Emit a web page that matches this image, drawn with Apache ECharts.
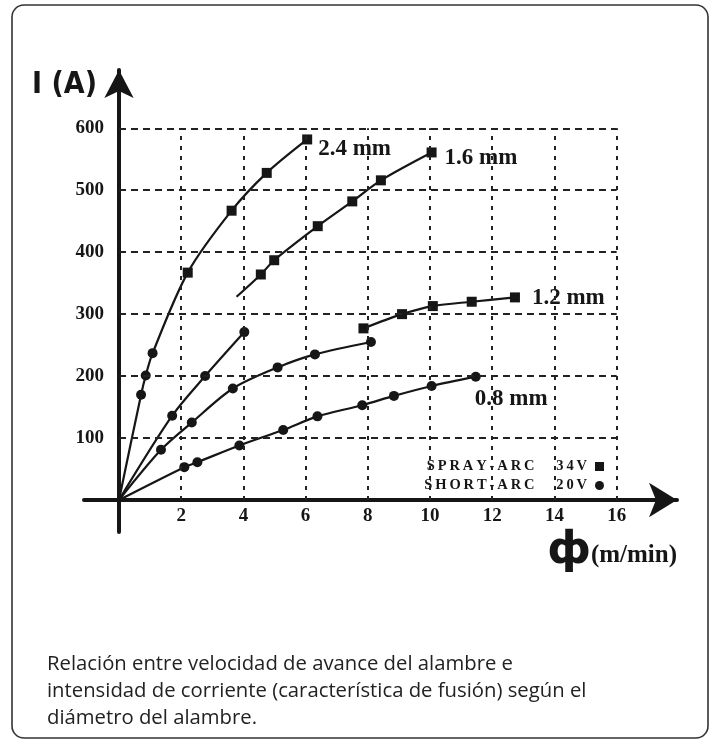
<!DOCTYPE html>
<html>
<head>
<meta charset="utf-8">
<script src="https://cdn.jsdelivr.net/npm/echarts@6/dist/echarts.min.js"></script>
<style>
  html, body { margin: 0; padding: 0; background: #fff; }
  #chart { width: 720px; height: 746px; }
</style>
</head>
<body>
<div id="chart"></div>
<script>
// Axis ticks
const xTicks = [2, 4, 6, 8, 10, 12, 14, 16];          // wire feed speed (m/min)
const yTicks = [100, 200, 300, 400, 500, 600];         // current (A)

// Melting characteristic per wire diameter: [feed speed m/min, current A]
const wire24Short = [[0.71, 170], [0.86, 201], [1.08, 237]];
const wire24Spray = [[2.21, 367], [3.62, 467], [4.75, 528], [6.05, 582]];

const wire16Short = [[1.71, 136], [2.77, 200], [4.03, 271]];
const wire16SprayFrom = [3.78, 328];
const wire16Spray = [[4.56, 364], [4.99, 387], [6.39, 442], [7.50, 482], [8.42, 516], [10.05, 561]];

const wire12Short = [[1.35, 81], [2.34, 125], [3.66, 180], [5.10, 214], [6.30, 235], [8.10, 255]];
const wire12Spray = [[7.86, 277], [9.10, 300], [10.09, 313], [11.34, 320], [12.73, 327]];

const wire08Short = [[2.10, 53], [2.52, 61], [3.87, 88], [5.28, 113], [6.38, 135], [7.82, 153], [8.84, 168], [10.05, 184], [11.47, 199]];

const origin = [0, 0];
const curveNames = ['2.4 mm', '1.6 mm', '1.2 mm', '0.8 mm'];
const arcModes = ['SPRAY-ARC 34V', 'SHORT-ARC 20V'];
const captionLines = [
  'Relación entre velocidad de avance del alambre e',
  'intensidad de corriente (característica de fusión) según el',
  'diámetro del alambre.'
];

const INK = '#161616';
const SERIF = "'Liberation Serif', 'DejaVu Serif', serif";

function marked(arr, symbol) {
  return arr.map(v => ({ value: v, symbol: symbol }));
}
function bare(v) {
  return { value: v, symbol: 'none' };
}
function withEndLabel(items, text, offset) {
  const out = items.slice();
  const last = out[out.length - 1];
  out[out.length - 1] = Object.assign({}, last, {
    label: {
      show: true,
      formatter: text,
      position: 'right',
      offset: offset,
      color: INK,
      fontFamily: SERIF,
      fontWeight: 'bold',
      fontSize: 23
    }
  });
  return out;
}

function curve(name, data) {
  return {
    name: name,
    type: 'line',
    data: data,
    smooth: 0.3,
    symbolSize: 10,
    showAllSymbol: true,
    lineStyle: { color: INK, width: 2.2 },
    itemStyle: { color: INK },
    z: 4
  };
}

// Dotted reference grid, bounded by the last tick on each axis
const xEnd = xTicks[xTicks.length - 1];
const yEnd = yTicks[yTicks.length - 1];
const gridLines = [];
xTicks.forEach(x => gridLines.push([
  { coord: [x, 0], lineStyle: { type: [4, 6] } },
  { coord: [x, yEnd] }
]));
yTicks.forEach(y => gridLines.push([
  { coord: [0, y], lineStyle: { type: [7, 5] } },
  { coord: [xEnd, y] }
]));

const chart = echarts.init(document.getElementById('chart'), null, { renderer: 'canvas' });

chart.setOption({
  animation: false,
  backgroundColor: '#ffffff',
  grid: {
    left: 84, right: 43, top: 70, bottom: 214,
    containLabel: false,
    outerBoundsMode: 'none'
  },
  xAxis: {
    type: 'value',
    min: -1.125,
    max: 17.94,
    axisLine: {
      onZero: true,
      symbol: ['none', 'arrow'],
      symbolSize: [26, 28],
      lineStyle: { color: INK, width: 4 }
    },
    axisTick: { show: false },
    splitLine: { show: false },
    axisLabel: {
      customValues: xTicks,
      margin: -25,
      color: INK,
      fontFamily: SERIF,
      fontWeight: 'bold',
      fontSize: 19
    },
    name: '{phi|ф}{u|(m/min)}',
    nameLocation: 'end',
    nameGap: 0,
    nameMoveOverlap: false,
    nameTextStyle: {
      align: 'right',
      verticalAlign: 'top',
      padding: [30, 0, 0, 0],
      rich: {
        phi: { fontFamily: "'DejaVu Sans', sans-serif", fontWeight: 'bold', fontSize: 44, color: INK },
        u: { fontFamily: SERIF, fontWeight: 'bold', fontSize: 25, color: INK, padding: [8, 0, 0, 0] }
      }
    }
  },
  yAxis: {
    type: 'value',
    min: -51.7,
    max: 694.1,
    axisLine: {
      onZero: true,
      symbol: ['none', 'arrow'],
      symbolSize: [22, 28],
      lineStyle: { color: INK, width: 4 }
    },
    axisTick: { show: false },
    splitLine: { show: false },
    axisLabel: {
      customValues: yTicks,
      margin: -20,
      color: INK,
      fontFamily: SERIF,
      fontWeight: 'bold',
      fontSize: 19
    },
    name: 'I (A)',
    nameLocation: 'end',
    nameGap: -15,
    nameMoveOverlap: false,
    nameTextStyle: {
      align: 'right',
      verticalAlign: 'middle',
      padding: [0, 22, 0, 0],
      color: INK,
      fontFamily: "'Liberation Sans Narrow', 'DejaVu Sans Condensed', 'Liberation Sans', sans-serif",
      fontWeight: 'bold',
      fontSize: 30
    }
  },
  legend: {
    orient: 'vertical',
    right: 116,
    top: 459,
    padding: 0,
    itemGap: 4,
    itemWidth: 9,
    itemHeight: 9,
    align: 'right',
    selectedMode: false,
    data: [
      { name: arcModes[0], icon: 'rect' },
      { name: arcModes[1], icon: 'circle' }
    ],
    formatter: name => name.split(' ').map(w => w.split('').join('\u2009')).join('\u2003\u2002'),
    textStyle: {
      color: INK,
      fontFamily: SERIF,
      fontWeight: 'bold',
      fontSize: 14.5,
      padding: [0, 3, 0, 0]
    }
  },
  series: [
    {
      name: 'grid',
      type: 'line',
      data: [],
      z: 1,
      markLine: {
        silent: true,
        symbol: ['none', 'none'],
        label: { show: false },
        lineStyle: { color: '#222', width: 2, type: [5, 5] },
        data: gridLines
      }
    },
    curve(curveNames[0], withEndLabel(
      [bare(origin)].concat(marked(wire24Short, 'circle'), marked(wire24Spray, 'rect')),
      curveNames[0], [1, 10])),
    curve(curveNames[1] + ' short', [bare(origin)].concat(marked(wire16Short, 'circle'))),
    curve(curveNames[1], withEndLabel(
      [bare(wire16SprayFrom)].concat(marked(wire16Spray, 'rect')),
      curveNames[1], [3, 6])),
    curve(curveNames[2] + ' short', [bare(origin)].concat(marked(wire12Short, 'circle'))),
    curve(curveNames[2], withEndLabel(marked(wire12Spray, 'rect'), curveNames[2], [7, 1])),
    curve(curveNames[3], withEndLabel(
      [bare(origin)].concat(marked(wire08Short, 'circle')),
      curveNames[3], [-11, 22])),
    { name: arcModes[0], type: 'line', data: [], symbol: 'rect', itemStyle: { color: INK } },
    { name: arcModes[1], type: 'line', data: [], symbol: 'circle', itemStyle: { color: INK } }
  ],
  graphic: [
    {
      type: 'rect',
      z: -10,
      shape: { x: 12, y: 5, width: 696, height: 733, r: 12 },
      style: { fill: 'none', stroke: '#333', lineWidth: 1.6 }
    },
    {
      type: 'text',
      left: 47,
      top: 651,
      style: {
        text: captionLines.join('\n'),
        fill: '#222',
        font: "20.3px 'Open Sans', 'Noto Sans', sans-serif",
        lineHeight: 27
      }
    }
  ]
});
</script>
</body>
</html>
